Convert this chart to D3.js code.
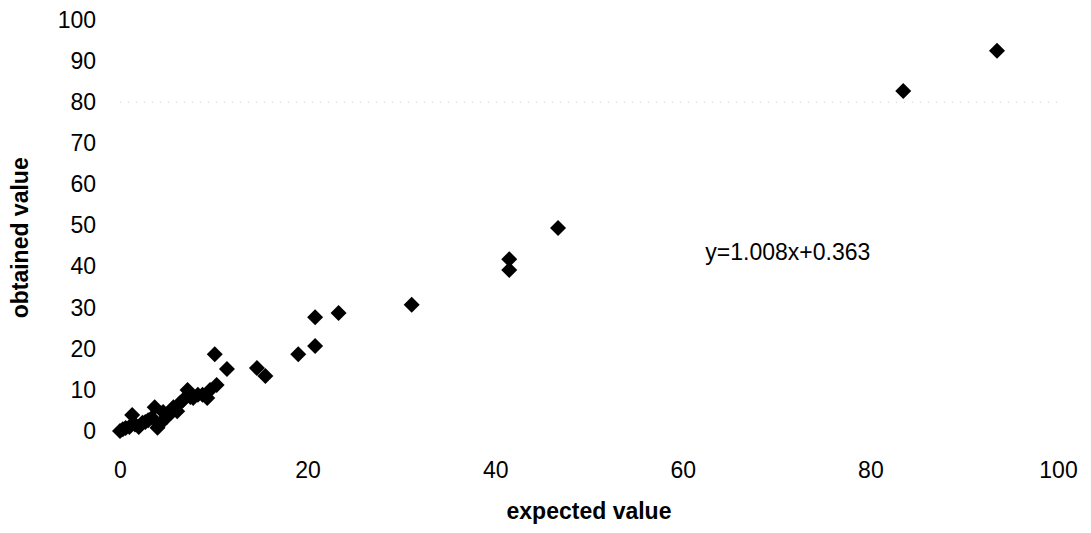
<!DOCTYPE html>
<html>
<head>
<meta charset="utf-8">
<script src="https://cdn.jsdelivr.net/npm/d3@7"></script>
<style>
  body { margin: 0; background: #fff; }
  text { font-family: "Liberation Sans", Arial, sans-serif; fill: #000; }
  .tick text { font-size: 23px; }
  .title { font-size: 23px; font-weight: 700; }
</style>
</head>
<body>
<div id="chart"></div>
<script>
// expected vs obtained values
var expected = [0, 0.3, 0.6, 1.0, 1.3, 1.6, 2.0, 2.4, 2.7, 3.0, 3.4, 3.7, 4.0, 4.3, 4.6,
                5.0, 5.4, 5.7, 6.1, 6.4, 6.7, 7.2, 7.5, 7.8, 8.3, 8.8, 9.3, 9.6, 10.1, 10.3,
                11.4, 14.6, 15.5, 19.0, 20.8, 20.8, 23.3, 31.1, 41.5, 41.5, 46.7, 83.5, 93.5];
var obtained = [0, 0.4, 0.7, 1.0, 3.9, 1.6, 1.0, 2.0, 2.2, 2.6, 3.2, 5.8, 0.8, 1.8, 4.6,
                3.4, 4.4, 5.8, 4.8, 6.8, 7.5, 10.0, 8.3, 8.0, 8.8, 8.8, 8.0, 10.0, 18.7, 11.2,
                15.1, 15.3, 13.4, 18.7, 20.7, 27.7, 28.7, 30.7, 41.8, 39.2, 49.4, 82.7, 92.5];
var xTicks = [0, 20, 40, 60, 80, 100];
var yTicks = [0, 10, 20, 30, 40, 50, 60, 70, 80, 90, 100];
var gridTicks = [80];
var equation = "y=1.008x+0.363";

var width = 1091, height = 533;
var margin = { top: 20, right: 33, bottom: 102, left: 120 };

var svg = d3.select("#chart").append("svg")
    .attr("width", width)
    .attr("height", height);

var x = d3.scaleLinear().domain([0, 100]).range([margin.left, width - margin.right]);
var y = d3.scaleLinear().domain([0, 100]).range([height - margin.bottom, margin.top]);

// faint dotted gridline left over in the scan
svg.append("g").selectAll("line")
    .data(gridTicks)
    .enter().append("line")
    .attr("x1", x(0)).attr("x2", x(100))
    .attr("y1", d => y(d)).attr("y2", d => y(d))
    .attr("stroke", "#cfcfcf")
    .attr("stroke-width", 1)
    .attr("stroke-dasharray", "1,7");

var xAxis = svg.append("g")
    .attr("transform", "translate(0," + (y(0) + 31) + ")")
    .call(d3.axisBottom(x).tickValues(xTicks).tickSize(0).tickPadding(0));
var yAxis = svg.append("g")
    .attr("transform", "translate(" + (x(0) - 24) + ",0)")
    .call(d3.axisLeft(y).tickValues(yTicks).tickSize(0).tickPadding(0));
[xAxis, yAxis].forEach(function (g) {
    g.select(".domain").remove();
    g.attr("font-family", null).attr("font-size", null);
});

// diamond markers
var diamond = d3.symbol().type(d3.symbolSquare).size(128);
svg.append("g").selectAll("path")
    .data(expected.map((e, i) => [e, obtained[i]]))
    .enter().append("path")
    .attr("d", diamond)
    .attr("fill", "#000")
    .attr("transform", d => "translate(" + x(d[0]) + "," + y(d[1]) + ") rotate(45)");

svg.append("text")
    .attr("x", x(62.4))
    .attr("y", 260)
    .attr("font-size", 23)
    .text(equation);

svg.append("text")
    .attr("class", "title")
    .attr("x", x(50))
    .attr("y", 519)
    .attr("text-anchor", "middle")
    .text("expected value");

svg.append("text")
    .attr("class", "title")
    .attr("transform", "translate(28," + y(47) + ") rotate(-90)")
    .attr("text-anchor", "middle")
    .text("obtained value");
</script>
</body>
</html>
